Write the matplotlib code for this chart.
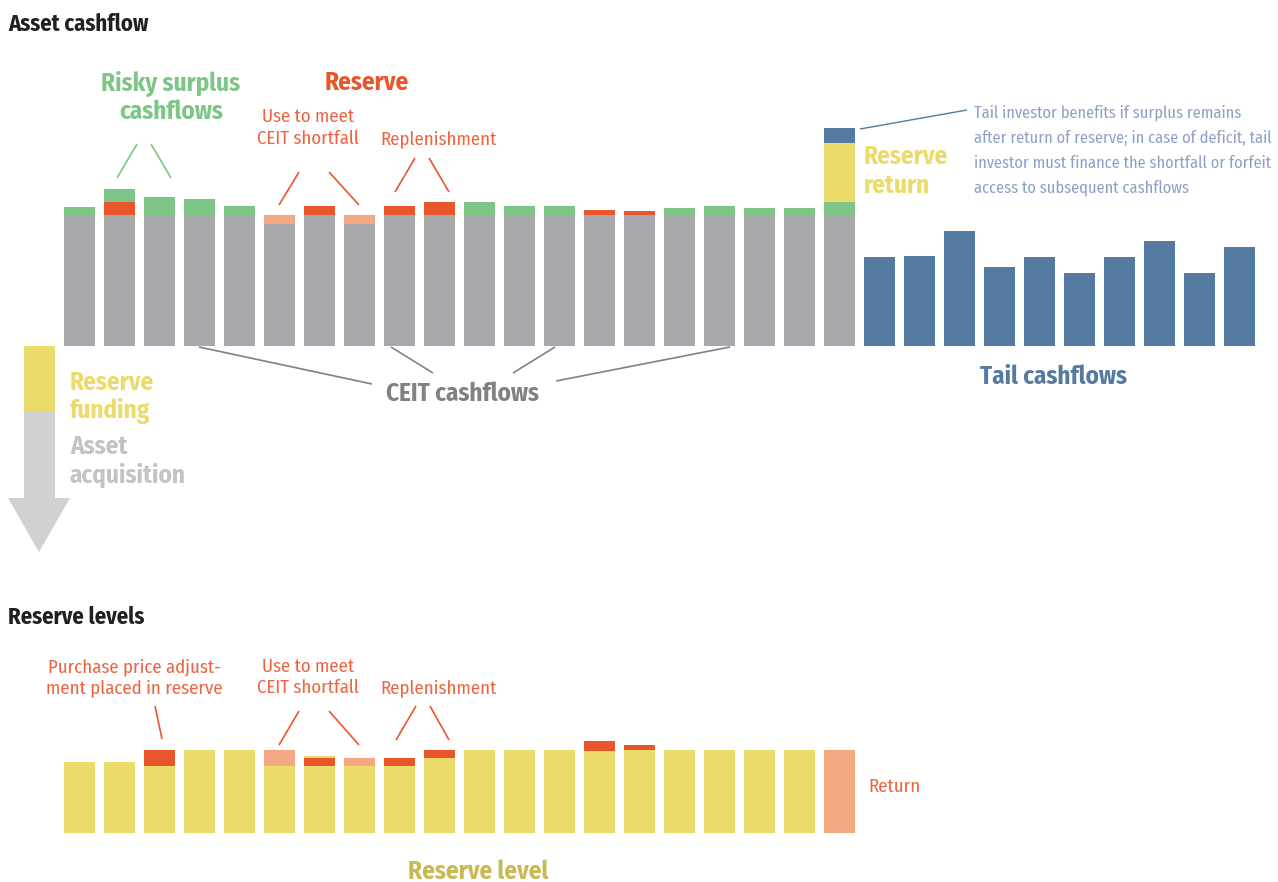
import matplotlib
matplotlib.use("Agg")
import matplotlib.pyplot as plt
from matplotlib.patches import Rectangle, Polygon
import numpy as np

plt.rcParams['font.family'] = ['Fira Sans Condensed', 'Roboto Condensed', 'DejaVu Sans']

# colours
GRAY = '#a7a8ac'
GREEN = '#7dc687'
RED = '#ea562c'
SALMON = '#f3a883'
YELLOW = '#eadb6a'
BLUE = '#557aa0'
ORANGE_TXT = '#ed6440'

# ---- data: asset cashflow (top), 20 periods + 10 tail periods ----
ceit = [131, 131, 131, 131, 131, 122, 131, 122, 131, 131,
        131, 131, 131, 131, 131, 131, 131, 131, 131, 131]
shortfall = [0, 0, 0, 0, 0, 9, 0, 9, 0, 0,
             0, 0, 0, 0, 0, 0, 0, 0, 0, 0]
replenish = [0, 13, 0, 0, 0, 0, 9, 0, 9, 13,
             0, 0, 0, 5, 4, 0, 0, 0, 0, 0]
surplus = [8, 13, 18, 16, 9, 0, 0, 0, 0, 0,
           13, 9, 9, 0, 0, 7, 9, 7, 7, 13]
reserve_return = [0] * 19 + [59]
tail_benefit = [0] * 19 + [15]
tail = [89, 90, 115, 79, 89, 73, 89, 105, 73, 99]

# ---- data: reserve levels (bottom) ----
level = [71, 71, 67, 83, 83, 67, 67, 67, 67, 75,
         83, 83, 83, 82, 83, 83, 83, 83, 83, 0]
added = [0, 0, 16, 0, 0, 0, 8, 0, 8, 8,
         0, 0, 0, 10, 5, 0, 0, 0, 0, 0]
used = [0, 0, 0, 0, 0, 16, 0, 8, 0, 0,
        0, 0, 0, 0, 0, 0, 0, 0, 0, 0]
level_extra = [0, 0, 0, 0, 0, 0, 2, 0, 0, 0,
               0, 0, 0, 0, 0, 0, 0, 0, 0, 0]
returned = [0] * 19 + [83]

W, H = 1278, 882
fig = plt.figure(figsize=(W / 100, H / 100), dpi=100)

def px_axes(left, bottom_px, width, height):
    return fig.add_axes([left / W, (H - bottom_px) / H, width / W, height / H])

BW = 0.775
x = np.arange(20)
xt = np.arange(20, 30)

# top chart
ax1 = px_axes(19.5, 346, 1240, 220)
ax1.set_xlim(-1.5, 29.5)
ax1.set_ylim(0, 220)
ax1.axis('off')
b = np.array(ceit, float)
ax1.bar(x, ceit, width=BW, color=GRAY, lw=0)
ax1.bar(x, shortfall, bottom=b, width=BW, color=SALMON, lw=0)
b = b + np.array(shortfall)
ax1.bar(x, replenish, bottom=b, width=BW, color=RED, lw=0)
b = b + np.array(replenish)
ax1.bar(x, surplus, bottom=b, width=BW, color=GREEN, lw=0)
b = b + np.array(surplus)
ax1.bar(x, reserve_return, bottom=b, width=BW, color=YELLOW, lw=0)
b = b + np.array(reserve_return)
ax1.bar(x, tail_benefit, bottom=b, width=BW, color=BLUE, lw=0)
ax1.bar(xt, tail, width=BW, color=BLUE, lw=0)

# bottom chart
ax2 = px_axes(19.5, 833, 1240, 100)
ax2.set_xlim(-1.5, 29.5)
ax2.set_ylim(0, 100)
ax2.axis('off')
b = np.array(level, float)
ax2.bar(x, level, width=BW, color=YELLOW, lw=0)
ax2.bar(x, added, bottom=b, width=BW, color=RED, lw=0)
b = b + np.array(added)
ax2.bar(x, used, bottom=b, width=BW, color=SALMON, lw=0)
b = b + np.array(used)
ax2.bar(x, level_extra, bottom=b, width=BW, color=YELLOW, lw=0)
ax2.bar(x, returned, width=BW, color=SALMON, lw=0)

# overlay for labels, in pixel coordinates
ov = fig.add_axes([0, 0, 1, 1])
ov.set_xlim(0, W)
ov.set_ylim(H, 0)
ov.axis('off')
ov.patch.set_alpha(0)

BIG = 18
REG = 13.5

def t(xp, yp, s, size, color, bold=False, ha='left'):
    ov.text(xp, yp, s, fontsize=size, color=color, ha=ha, va='baseline',
            fontweight='bold' if bold else 'normal')

def line(p, q, color, lw=1.2):
    ov.plot([p[0], q[0]], [p[1], q[1]], color=color, lw=lw, solid_capstyle='butt')

# left arrow
ov.add_patch(Rectangle((24, 346), 31, 65, color=YELLOW, lw=0))
ov.add_patch(Rectangle((24, 411), 31, 88, color='#d0d1d3', lw=0))
ov.add_patch(Polygon([(8, 498), (70, 498), (39, 552)], closed=True, color='#d0d1d3', lw=0))

# headings
t(8, 31, 'Asset cashflow', 16.3, '#231f20', bold=True)
t(8, 624, 'Reserve levels', 16.3, '#231f20', bold=True)

# top chart labels
t(171, 91, 'Risky surplus', BIG, GREEN, True, 'center')
t(171, 119, 'cashflows', BIG, GREEN, True, 'center')
line((137, 144), (117, 178), GREEN)
line((151, 144), (171, 178), GREEN)

t(367, 90, 'Reserve', BIG, RED, True, 'center')
t(308, 122, 'Use to meet', REG, ORANGE_TXT, ha='center')
t(308, 144, 'CEIT shortfall', REG, ORANGE_TXT, ha='center')
t(439, 144, 'Replenishment', REG, ORANGE_TXT, ha='center')
line((299, 172), (279, 205), RED)
line((329, 172), (359, 205), RED)
line((415, 158), (395, 192), RED)
line((429, 158), (449, 192), RED)

t(462, 401, 'CEIT cashflows', BIG, '#808184', True, 'center')
line((199, 347), (372, 384), '#808184')
line((391, 347), (433, 373), '#808184')
line((555, 347), (513, 373), '#808184')
line((730, 347), (556, 381), '#808184')

t(1053, 384, 'Tail cashflows', BIG, BLUE, True, 'center')
t(864, 164, 'Reserve', BIG, YELLOW, True)
t(864, 193, 'return', BIG, YELLOW, True)

tail_note = ['Tail investor benefits if surplus remains',
             'after return of reserve; in case of deficit, tail',
             'investor must finance the shortfall or forfeit',
             'access to subsequent cashflows']
for i, s in enumerate(tail_note):
    t(974, 118 + 25 * i, s, 11.8, '#8da0c6')
line((860, 129), (967, 110), BLUE, 1.0)

t(70, 390, 'Reserve', BIG, YELLOW, True)
t(70, 418, 'funding', BIG, YELLOW, True)
t(70, 454, 'Asset', BIG, '#c2c3c5', True)
t(70, 483, 'acquisition', BIG, '#c2c3c5', True)

# bottom chart labels
t(134, 672, 'Purchase price adjust-', REG, ORANGE_TXT, ha='center')
t(134, 693, 'ment placed in reserve', REG, ORANGE_TXT, ha='center')
line((155, 706), (162, 739), RED)
t(308, 672, 'Use to meet', REG, ORANGE_TXT, ha='center')
t(308, 693, 'CEIT shortfall', REG, ORANGE_TXT, ha='center')
t(439, 693, 'Replenishment', REG, ORANGE_TXT, ha='center')
line((299, 711), (279, 745), RED)
line((329, 711), (359, 745), RED)
line((416, 706), (396, 740), RED)
line((430, 706), (449, 740), RED)
t(868, 792, 'Return', REG, ORANGE_TXT)
t(478, 879, 'Reserve level', BIG, '#c9b856', True, 'center')

fig.savefig('out.png', dpi=100)
